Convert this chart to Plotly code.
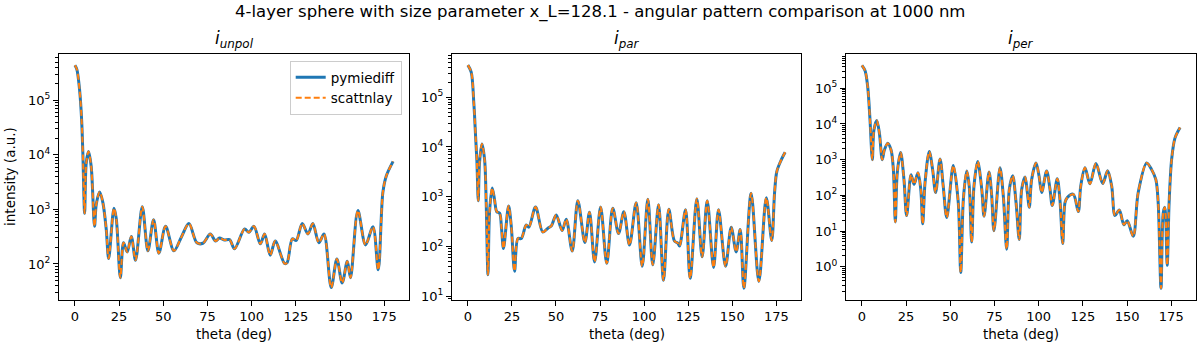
import plotly.graph_objects as go

# Scattering angle (deg) and intensity for each polarisation channel
theta_unpol = [0, 1.1, 2.7, 3.8, 4.5, 5.5, 6.4, 7.7, 9.2, 11.1, 12.1, 14.0, 15.8, 17.7, 19.1,
               22.1, 23.4, 25.7, 27.5, 29.6, 31.9, 34.3, 38.1, 41.3, 44.5, 47.5, 51.3, 56.0,
               60.2, 64.5, 69.0, 72.4, 76.6, 79.6, 81.8, 84.5, 87.5, 90.3, 96.0, 98.4, 101.3,
               104.9, 107.3, 110.5, 113.3, 118.6, 120.0, 123.0, 125.2, 128.6, 131.8, 134.6,
               138.0, 140.9, 145.0, 148.2, 151.2, 154.1, 155.9, 160.1, 164.4, 168.6, 171.6,
               174.2, 176.1, 180.0]
i_unpol = [4.4e5, 3.7e5, 1.5e5, 4.4e4, 1.07e4, 850, 7100, 1.15e4, 6200, 490, 1260, 2100, 1350,
           440, 126, 1050, 680, 56, 245, 166, 320, 117, 1120, 174, 650, 158, 490, 174,
           310, 550, 245, 240, 355, 263, 300, 275, 280, 190, 440, 380, 490,
           234, 355, 145, 263, 102, 105, 290, 270, 550, 355, 550,
           245, 355, 37, 123, 45, 112, 56, 955, 224, 480, 78,
           2040, 4070, 7600]

theta_par = [0, 1.9, 3.4, 4.4, 5.1, 5.9, 6.6, 8.0, 9.5, 10.4, 11.4, 12.3, 13.8, 15.1, 16.4,
             18.0, 19.1, 20.2, 23.1, 24.6, 26.5, 28.4, 30.3, 33.1, 34.6, 38.4, 42.5, 45.4,
             47.3, 50.1, 53.5, 55.8, 59.2, 62.4, 66.4, 69.0, 71.9, 75.3, 78.8, 82.2, 85.5,
             88.5, 91.7, 95.5, 98.9, 102.1, 104.9, 108.2, 111.0, 114.0, 117.2, 119.1, 120.1,
             123.5, 126.1, 129.9, 132.9, 135.8, 139.4, 142.2, 146.2, 149.4, 152.2, 154.5,
             156.6, 160.7, 165.1, 169.3, 172.4, 174.0, 175.3, 177.8, 180.0]
i_par = [4.4e5, 3.2e5, 7.4e4, 1.6e4, 5500, 830, 4800, 1.15e4, 5500, 760, 27, 490, 1500, 890, 500,
         470, 230, 91, 650, 263, 32, 145, 145, 270, 245, 620, 195, 234,
         257, 430, 210, 355, 81, 830, 120, 490, 49, 620, 46, 590, 182,
         500, 107, 760, 40, 890, 43, 690, 21, 560, 129, 117, 102,
         550, 23, 910, 62, 830, 38, 550, 40, 245, 78, 219,
         14.5, 1175, 20, 955, 132, 1200, 3240, 5500, 7800]

theta_per = [0, 1.8, 3.3, 4.6, 5.9, 6.8, 8.4, 9.9, 11.5, 12.7, 14.6, 16.5, 17.8, 18.9, 20.0,
             21.9, 23.8, 25.3, 27.8, 29.5, 31.7, 33.3, 34.4, 35.7, 38.1, 40.0, 41.7, 44.2,
             46.0, 48.0, 51.7, 54.5, 55.9, 57.4, 59.3, 60.7, 62.1, 63.4, 65.5, 67.8, 69.1,
             71.9, 73.4, 74.7, 78.1, 80.0, 81.9, 83.4, 85.3, 87.2, 89.0, 90.4, 92.3, 93.6,
             94.7, 96.0, 98.5, 100.2, 101.7, 104.5, 106.4, 107.7, 110.5, 112.0, 113.6, 114.9,
             116.2, 119.6, 122.4, 123.8, 126.2, 129.0, 132.4, 136.2, 139.0, 141.3, 143.2,
             145.6, 148.2, 150.1, 153.5, 156.3, 161.1, 163.9, 166.3, 167.6, 169.2, 170.5,
             171.4, 172.7, 173.8, 175.2, 177.1, 180.0]
i_per = [4.4e5, 3.1e5, 1.07e5, 1.26e4, 1000, 6800, 1.26e4, 5500, 1000, 1860, 2900, 1860, 525, 18, 430,
         1580, 275, 27, 380, 204, 430, 148, 16, 224, 1700, 525, 120, 1050,
         182, 24, 680, 63, 0.69, 78, 480, 182, 4.9, 182, 890, 148, 26,
         450, 100, 10.2, 590, 95, 3.1, 148, 355, 63, 5.8, 148, 324, 120,
         46, 275, 810, 350, 120, 480, 148, 52, 290, 78, 4.5, 63,
         87, 107, 35, 182, 590, 210, 780, 214, 490, 182, 27,
         39, 15, 19.5, 7.1, 120, 810, 525, 275, 63, 0.25, 33,
         46, 1.1, 63, 1000, 4000, 7900]

panels = [
    ("unpol", theta_unpol, i_unpol, [1.348, 5.844], [2, 3, 4, 5]),
    ("par", theta_par, i_par, [0.935, 5.86], [1, 2, 3, 4, 5]),
    ("per", theta_per, i_per, [-0.92, 5.95], [0, 1, 2, 3, 4, 5]),
]
x_domains = [(59, 409), (452, 801), (846, 1196)]
W, H = 1200, 350
y_dom = [1 - 303 / H, 1 - 55 / H]

BLUE = "#1f77b4"
ORANGE = "#ff7f0e"
FONT = "DejaVu Sans"

fig = go.Figure()
layout = {}
annotations = []

minor_vals = [m * 10.0 ** k for k in range(-2, 7) for m in range(2, 10)]
x_ticks = [0, 25, 50, 75, 100, 125, 150, 175]

for n, (name, th, vals, yrange, decades) in enumerate(panels, start=1):
    xa = "x" if n == 1 else f"x{n}"
    ya = "y" if n == 1 else f"y{n}"
    fig.add_trace(go.Scatter(
        x=th, y=vals, xaxis=xa, yaxis=ya, mode="lines", name="pymiediff",
        line=dict(color=BLUE, width=3, shape="spline", smoothing=0.9),
        showlegend=(n == 1), legendgroup="a"))
    fig.add_trace(go.Scatter(
        x=th, y=vals, xaxis=xa, yaxis=ya, mode="lines", name="scattnlay",
        line=dict(color=ORANGE, width=2, dash="6px,3px", shape="spline", smoothing=0.9),
        showlegend=(n == 1), legendgroup="b"))

    x0, x1 = x_domains[n - 1]
    common = dict(showline=True, mirror=True, linecolor="black", linewidth=1,
                  ticks="outside", ticklen=5, tickwidth=1, tickcolor="black",
                  showgrid=False, zeroline=False,
                  tickfont=dict(family=FONT, size=13, color="black"))
    layout["xaxis" if n == 1 else f"xaxis{n}"] = dict(
        domain=[x0 / W, x1 / W], anchor=ya, range=[-9, 189],
        tickvals=x_ticks, ticktext=[str(t) for t in x_ticks], **common)
    layout["yaxis" if n == 1 else f"yaxis{n}"] = dict(
        domain=y_dom, anchor=xa, type="log", range=yrange,
        tickvals=[10.0 ** d for d in decades],
        ticktext=[f"10<sup>{d}</sup>" for d in decades],
        minor=dict(tickvals=minor_vals, ticks="outside", ticklen=3,
                   tickwidth=0.8, tickcolor="black", showgrid=False),
        **common)

    xc = (x0 + x1) / 2 / W
    annotations.append(dict(
        text=f"<i>i</i><sub><i>{name}</i></sub>", x=xc, y=1 - 40 / H,
        xref="paper", yref="paper", showarrow=False, xanchor="center", yanchor="middle",
        font=dict(family=FONT, size=17, color="black")))
    annotations.append(dict(
        text="theta (deg)", x=xc, y=1 - 338 / H, xref="paper", yref="paper",
        showarrow=False, xanchor="center", yanchor="middle",
        font=dict(family=FONT, size=13.5, color="black")))

annotations.append(dict(
    text="intensity (a.u.)", x=10 / W, y=1 - 179 / H, xref="paper", yref="paper",
    showarrow=False, textangle=-90, xanchor="center", yanchor="middle",
    font=dict(family=FONT, size=13.5, color="black")))
annotations.append(dict(
    text="4-layer sphere with size parameter x_L=128.1 - angular pattern comparison at 1000 nm",
    x=0.5, y=1 - 12 / H, xref="paper", yref="paper", showarrow=False,
    xanchor="center", yanchor="middle",
    font=dict(family=FONT, size=16.5, color="black")))

fig.update_layout(
    width=W, height=H, margin=dict(l=0, r=0, t=0, b=0),
    paper_bgcolor="white", plot_bgcolor="white",
    annotations=annotations,
    legend=dict(x=401.7 / W, y=1 - 61.7 / H, xanchor="right", yanchor="top",
                bgcolor="rgba(255,255,255,0.8)", bordercolor="#cccccc", borderwidth=1,
                font=dict(family=FONT, size=13.5, color="black"),
                tracegroupgap=0, itemwidth=30),
    **layout,
)

fig.write_html("out.html")
